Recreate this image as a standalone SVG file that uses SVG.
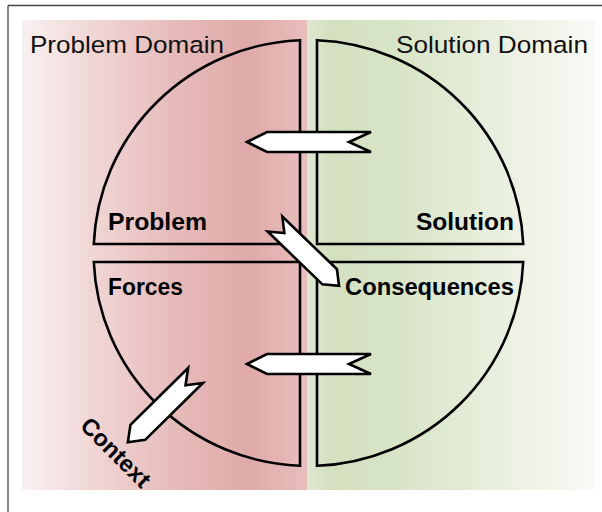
<svg xmlns="http://www.w3.org/2000/svg" width="602" height="512" viewBox="0 0 602 512">
  <defs>
    <linearGradient id="gRed" x1="0" y1="0" x2="1" y2="0">
      <stop offset="0" stop-color="#f9f0f0"/>
      <stop offset="0.27" stop-color="#efd4d3"/>
      <stop offset="0.55" stop-color="#e5bab9"/>
      <stop offset="0.8" stop-color="#dfaaa9"/>
      <stop offset="1" stop-color="#e8bebd"/>
    </linearGradient>
    <linearGradient id="gGreen" x1="0" y1="0" x2="1" y2="0">
      <stop offset="0" stop-color="#dfe8d2"/>
      <stop offset="0.08" stop-color="#d3e0bf"/>
      <stop offset="0.32" stop-color="#d8e4c7"/>
      <stop offset="0.6" stop-color="#e6edda"/>
      <stop offset="1" stop-color="#f9faf6"/>
    </linearGradient>
    <style>
      .quad { fill: none; stroke: #000; stroke-width: 2.6; stroke-linejoin: miter; }
      .arrow { fill: #fff; stroke: #000; stroke-width: 2.6; stroke-linejoin: miter; }
      .dom { font-family: "Liberation Sans", Arial, sans-serif; font-size: 24.5px; fill: #111; }
      .lbl { font-family: "Liberation Sans", Arial, sans-serif; font-size: 23.5px; font-weight: bold; fill: #000; }
    </style>
  </defs>

  <g id="frame">
    <line x1="8" y1="5.5" x2="602" y2="5.5" stroke="#444" stroke-width="1.3"/>
    <line x1="8" y1="5.5" x2="8" y2="512" stroke="#444" stroke-width="1.3"/>
  </g>

  <g id="background">
    <rect x="22" y="20" width="285" height="470" fill="url(#gRed)"/>
    <rect x="307" y="20" width="288" height="470" fill="url(#gGreen)"/>
  </g>

  <g id="domain-labels">
    <text class="dom" x="30" y="52.5" textLength="194" lengthAdjust="spacingAndGlyphs">Problem Domain</text>
    <text class="dom" x="396" y="52.5" textLength="192" lengthAdjust="spacingAndGlyphs">Solution Domain</text>
  </g>

  <g id="problem">
    <path class="quad" d="M300,244 L93.8,244 A215,213 0 0 1 300,40.2 Z"/>
    <text class="lbl" x="108" y="230" textLength="99" lengthAdjust="spacingAndGlyphs">Problem</text>
  </g>
  <g id="solution">
    <path class="quad" d="M317,244 L317,40.2 A215,213 0 0 1 523.2,244 Z"/>
    <text class="lbl" x="416" y="230" textLength="98" lengthAdjust="spacingAndGlyphs">Solution</text>
  </g>
  <g id="forces">
    <path class="quad" d="M300,262 L300,465.8 A215,213 0 0 1 93.8,262 Z"/>
    <text class="lbl" x="108" y="294.5" textLength="75" lengthAdjust="spacingAndGlyphs">Forces</text>
  </g>
  <g id="consequences">
    <path class="quad" d="M317,262 L523.2,262 A215,213 0 0 1 317,465.8 Z"/>
    <text class="lbl" x="345" y="294.5" textLength="169" lengthAdjust="spacingAndGlyphs">Consequences</text>
  </g>
  <g id="context">
    <text class="lbl" transform="translate(79,427) rotate(45)" x="0" y="0" textLength="88" lengthAdjust="spacingAndGlyphs">Context</text>
  </g>

  <g id="connectors">
    <polygon class="arrow" points="247,142 267,132 371,132 349,142 371,152 267,152"/>
    <polygon class="arrow" points="247,364 267,354 371,354 349,364 371,374 267,374"/>
    <polygon class="arrow" transform="translate(275,224) rotate(44)" points="0,-10.5 76,-10.5 89,0 76,10.5 0,10.5 13,0"/>
    <polygon class="arrow" transform="translate(195.5,375.5) rotate(135.4)" points="0,-10.5 81,-10.5 95,0 81,10.5 0,10.5 14,0"/>
  </g>
</svg>
